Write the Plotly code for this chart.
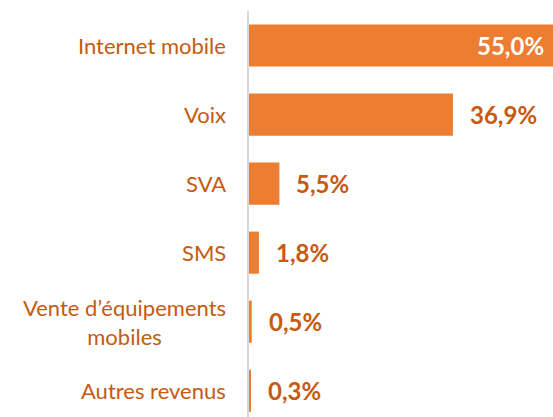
import plotly.graph_objects as go

# parts du revenu par service (%)
categories = ["Internet mobile", "Voix", "SVA", "SMS",
              "Vente d’équipements<br>mobiles", "Autres revenus"]
values = [55.0, 36.9, 5.5, 1.8, 0.5, 0.3]
labels = ["55,0%", "36,9%", "5,5%", "1,8%", "0,5%", "0,3%"]

BAR = "#ED7D31"
TXT = "#C55A11"
FONT = "Lato"

fig = go.Figure(go.Bar(
    x=values,
    y=categories,
    orientation="h",
    marker=dict(color=BAR, line=dict(width=0)),
    width=0.61,
    hoverinfo="skip",
))

# étiquettes de valeur : dans la barre pour la plus grande, à droite sinon
for cat, v, lab in zip(categories, values, labels):
    inside = v == max(values)
    fig.add_annotation(
        x=v, y=cat, text=f"<b>{lab}</b>", showarrow=False,
        xanchor="right" if inside else "left",
        xshift=-7 if inside else 15,
        font=dict(family=FONT, size=24, color="white" if inside else TXT),
    )

# libellés de catégories (centrés ligne par ligne)
for cat in categories:
    fig.add_annotation(
        x=0, xref="paper", y=cat, text=cat, showarrow=False,
        xanchor="right", xshift=-21, align="center",
        font=dict(family=FONT, size=22, color=TXT),
    )

fig.update_layout(
    width=553, height=417,
    margin=dict(l=249, r=0, t=11, b=0),
    paper_bgcolor="white", plot_bgcolor="white",
    showlegend=False,
    xaxis=dict(range=[0, 55], visible=False),
    yaxis=dict(
        range=[5.38, -0.5],
        showticklabels=False, ticks="",
        showgrid=False, zeroline=False,
        showline=True, linecolor="#D9D9D9", linewidth=2,
    ),
)

# pas de marge autour du graphique dans la page
fig.write_html("out.html", config={"displayModeBar": False},
               post_script="document.body.style.margin='0';")
